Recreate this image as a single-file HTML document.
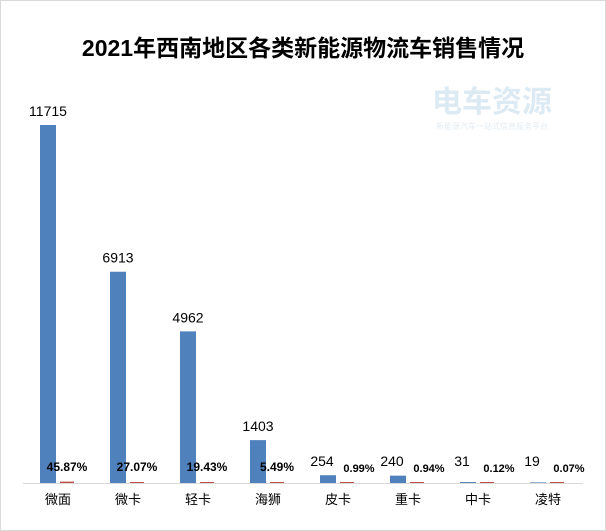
<!DOCTYPE html>
<html><head><meta charset="utf-8"><style>
body{margin:0;background:#fff}
svg{display:block;font-family:"Liberation Sans","Noto Sans CJK SC",sans-serif}
</style></head><body>
<svg id="c" width="606" height="531">
<rect x="0.5" y="0.5" width="605" height="530" fill="#fff" stroke="#d9d9d9"/>
<text x="303" y="56" text-anchor="middle" font-size="23" font-weight="bold" fill="#000">2021年西南地区各类新能源物流车销售情况</text>
<g opacity="0.35">
<text x="492" y="112" text-anchor="middle" font-size="30" font-weight="bold" fill="#9ec4e0">电车资源</text>
<text x="492" y="129" text-anchor="middle" font-size="8" fill="#b0c8d8">新能源汽车一站式信息服务平台</text>
</g>
<line x1="23" y1="483.5" x2="583" y2="483.5" stroke="#d9d9d9"/>
<g id="marks"></g>
</svg>
<script>
const categories=["微面","微卡","轻卡","海狮","皮卡","重卡","中卡","凌特"];
const sales=[11715,6913,4962,1403,254,240,31,19];
const shares=[45.87,27.07,19.43,5.49,0.99,0.94,0.12,0.07];
const shareLabels=["45.87%","27.07%","19.43%","5.49%","0.99%","0.94%","0.12%","0.07%"];
const base=483, scale=358/11715, x0=23, cw=70;
const y=v=>base-v*scale, x=i=>x0+i*cw;
const g=document.getElementById('marks');
const NS='http://www.w3.org/2000/svg';
function mk(t,a){const e=document.createElementNS(NS,t);for(const k in a)e.setAttribute(k,a[k]);g.appendChild(e);return e;}
categories.forEach((c,i)=>{
 const b=mk('rect',{x:x(i)+17,y:y(sales[i]),width:16,height:base-y(sales[i]),fill:'#4f81bd'});
 
 
 const hr=Math.max(1,base-y(shares[i]));
 const r=mk('rect',{x:x(i)+37,y:base-hr,width:14,height:hr,fill:'#c0504d'});
 
 
 const sl=i<4?y(sales[i])-9:Math.min(y(sales[i])-9,466);
 const t=mk('text',{x:i<4?x(i)+25:x(i)+19,y:sl,'text-anchor':'middle','font-size':14,fill:'#000'});
 t.textContent=sales[i];
 
 
 const p=mk('text',{x:i<4?x(i)+44:x(i)+56,y:i<4?471:472,'text-anchor':'middle','font-size':i<4?12:11,'font-weight':'bold',fill:'#000'});
 p.textContent=shareLabels[i];
 
 
 const l=mk('text',{x:x(i)+35,y:504,'text-anchor':'middle','font-size':13,fill:'#000'});
 l.textContent=c;
 
 
});
</script>
</body></html>
